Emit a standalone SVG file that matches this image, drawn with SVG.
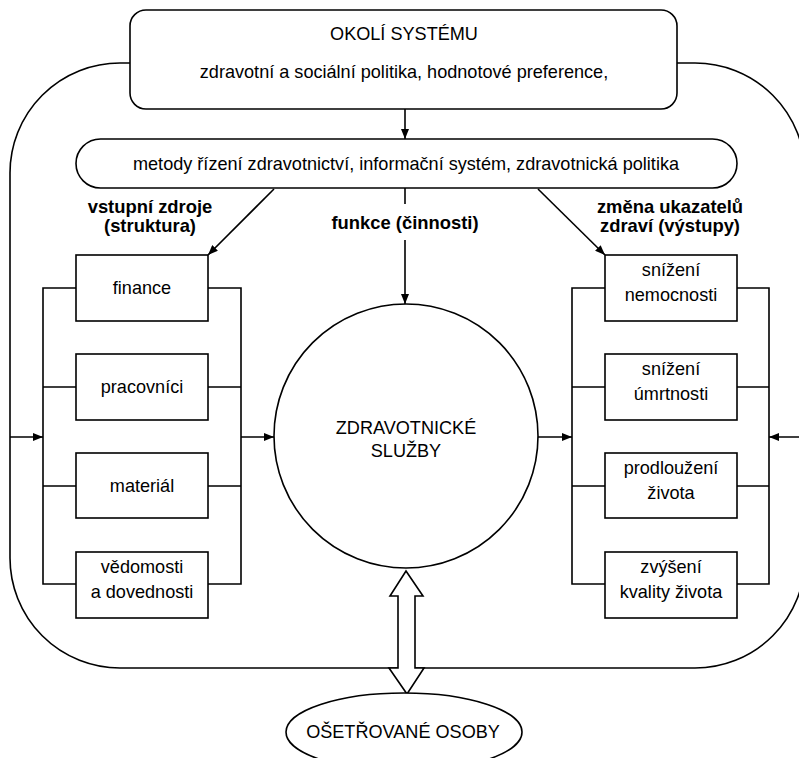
<svg xmlns="http://www.w3.org/2000/svg" width="799" height="758" viewBox="0 0 799 758">
<style>
.s{fill:#fff;stroke:#000;stroke-width:1.6}
.c{fill:none;stroke:#000;stroke-width:1.6}
text{font-family:"Liberation Sans",Arial,sans-serif;font-size:18.1px;fill:#000;text-anchor:middle}
.b{font-weight:bold;font-size:18.4px}
</style>
<defs>
<marker id="ah" viewBox="0 0 10 8" refX="10" refY="4" markerWidth="10" markerHeight="8" markerUnits="userSpaceOnUse" orient="auto">
<path d="M0,0 L10,4 L0,8 Z" fill="#000"/>
</marker>
</defs>
<rect id="outer" x="10" y="63" width="795" height="605" rx="110" ry="110" class="c"/>
<g id="connectors" class="c">
<line x1="405" y1="109" x2="405" y2="139" marker-end="url(#ah)"/>
<line x1="274" y1="189" x2="208" y2="255" marker-end="url(#ah)"/>
<line x1="538" y1="189" x2="605" y2="255" marker-end="url(#ah)"/>
<line x1="405" y1="188" x2="405" y2="204"/>
<line x1="405" y1="240" x2="405" y2="304" marker-end="url(#ah)"/>
<line x1="10" y1="437" x2="43" y2="437" marker-end="url(#ah)"/>
<line x1="241" y1="437" x2="274" y2="437" marker-end="url(#ah)"/>
<line x1="538" y1="437" x2="572" y2="437" marker-end="url(#ah)"/>
<line x1="805" y1="437" x2="769" y2="437" marker-end="url(#ah)"/>
<path d="M76,288 H43 V584 H76 M43,387 H76 M43,486 H76"/>
<path d="M208,288 H241 V584 H208 M241,387 H208 M241,486 H208"/>
<path d="M605,288 H572 V584 H605 M572,387 H605 M572,486 H605"/>
<path d="M737,288 H769 V584 H737 M769,387 H737 M769,486 H737"/>
</g>
<g id="okoli">
<rect x="130" y="10" width="547" height="99" rx="16" class="s"/>
<text x="404" y="40">OKOLÍ SYSTÉMU</text>
<text x="404" y="78">zdravotní a sociální politika, hodnotové preference,</text>
</g>
<g id="metody">
<rect x="76" y="139" width="661" height="49" rx="24.5" class="s"/>
<text x="406" y="170">metody řízení zdravotnictví, informační systém, zdravotnická politika</text>
</g>
<g id="labels">
<text class="b" x="150" y="213">vstupní zdroje</text>
<text class="b" x="150" y="232">(struktura)</text>
<text class="b" x="405" y="229">funkce (činnosti)</text>
<text class="b" x="670" y="213">změna ukazatelů</text>
<text class="b" x="670" y="232">zdraví (výstupy)</text>
</g>
<g id="finance"><rect x="76" y="255" width="132" height="66" class="s"/><text x="142" y="294">finance</text></g>
<g id="pracovnici"><rect x="76" y="354" width="132" height="66" class="s"/><text x="142" y="393">pracovníci</text></g>
<g id="material"><rect x="76" y="453" width="132" height="65" class="s"/><text x="142" y="492">materiál</text></g>
<g id="vedomosti"><rect x="76" y="552" width="132" height="66" class="s"/><text x="142" y="573">vědomosti</text><text x="142" y="598">a dovednosti</text></g>
<g id="nemocnost"><rect x="605" y="255" width="132" height="66" class="s"/><text x="671" y="276">snížení</text><text x="671" y="301">nemocnosti</text></g>
<g id="umrtnost"><rect x="605" y="354" width="132" height="66" class="s"/><text x="671" y="375">snížení</text><text x="671" y="400">úmrtnosti</text></g>
<g id="prodlouzeni"><rect x="605" y="453" width="132" height="65" class="s"/><text x="671" y="474">prodloužení</text><text x="671" y="499">života</text></g>
<g id="kvalita"><rect x="605" y="552" width="132" height="66" class="s"/><text x="671" y="573">zvýšení</text><text x="671" y="598">kvality života</text></g>
<g id="sluzby">
<circle cx="406" cy="436" r="132" class="s"/>
<text x="406" y="434">ZDRAVOTNICKÉ</text>
<text x="406" y="457">SLUŽBY</text>
</g>
<g id="double-arrow">
<path d="M406,571 L423,596 L415,596 L415,668 L424,668 L407,694 L389,668 L398,668 L398,596 L390,596 Z" class="s"/>
</g>
<g id="osoby">
<ellipse cx="404" cy="732" rx="118" ry="39" class="s"/>
<text x="403" y="738">OŠETŘOVANÉ OSOBY</text>
</g>
</svg>
